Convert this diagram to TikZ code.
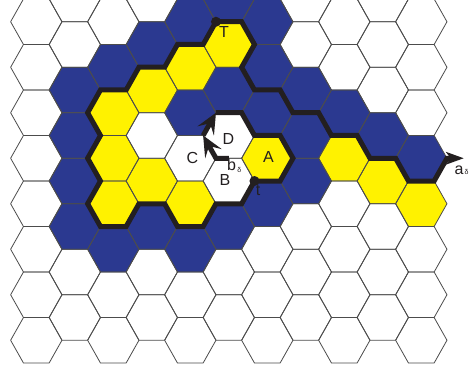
\documentclass[tikz,border=0pt]{standalone}
\usepackage{fontspec}
\setmainfont{Liberation Sans}
\usetikzlibrary{calc}
\definecolor{hexblue}{RGB}{43,57,144}
\definecolor{hexyellow}{RGB}{255,242,0}
\definecolor{pathblack}{RGB}{35,31,32}
\tikzset{
  hexline/.style={draw=black!70, line width=0.8pt, line join=round},
  bluecell/.style={fill=hexblue},
  yellowcell/.style={fill=hexyellow},
  explore/.style={draw=pathblack, line width=5pt, line join=miter, miter limit=10},
  headfill/.style={fill=pathblack},
  dotmark/.style={circle, fill=pathblack, inner sep=0pt, minimum size=10pt},
  lab/.style={font=\fontsize{16}{19}\selectfont, inner sep=0pt, text=pathblack},
}
\newcommand\hexcell[2]{(#1-2,#2) -- (#1-1,#2-1) -- (#1+1,#2-1) -- (#1+2,#2) -- (#1+1,#2+1) -- (#1-1,#2+1) -- cycle}
% arrowhead: tip, point it comes from, length, half width, inset
\newcommand\arrowheadat[5]{%
  \fill[headfill] (#1) -- ($($(#1)!#3!(#2)$)!#4!90:(#1)$) -- ($(#1)!#3-#5!(#2)$) -- ($($(#1)!#3!(#2)$)!#4!-90:(#1)$) -- cycle;}
\begin{document}
\begin{tikzpicture}[x=1pt,y=-1pt]
\useasboundingbox (0,0) rectangle (470,374);
\fill[white] (0,0) rectangle (470,374);
\clip (0,0) rectangle (470,374);
\begin{scope}[shift={(10.63pt,1pt)}, x=12.8333pt, y=-22.75pt]
  % coloured cells
  \foreach \c/\k in {1/4,1/6,1/8,1/10,2/3,2/11,3/2,3/10,4/1,4/5,4/11,5/0,5/4,5/10,6/1,6/3,6/5,6/9,7/4,7/6,7/8,8/5,9/6,10/7} {
    \pgfmathtruncatemacro\m{2+3*\c}
    \fill[bluecell] \hexcell{\m}{\k};
  }
  \foreach \c/\k in {2/5,2/7,2/9,3/4,3/8,4/3,4/9,5/2,6/7,8/7,9/8,10/9} {
    \pgfmathtruncatemacro\m{2+3*\c}
    \fill[yellowcell] \hexcell{\m}{\k};
  }
  % grid
  \foreach \c in {0,...,10} {
    \pgfmathtruncatemacro\m{2+3*\c}
    \pgfmathtruncatemacro\ka{mod(\c+1,2)}
    \pgfmathtruncatemacro\kb{\ka+2}
    \foreach \k in {\ka,\kb,...,15} {
      \draw[hexline] \hexcell{\m}{\k};
    }
  }
  % key points
  \coordinate (bd) at (17,7);
  \coordinate (c1) at (16,7);
  \coordinate (c2) at (15,6);
  \coordinate (c3) at (16,5);
  \coordinate (vT) at (16,1);
  \coordinate (vt) at (19,8);
  \coordinate (ad) at (34,7);
  \coordinate (adtip) at (35.3,7);
  \coordinate (lowI) at ($(c2)!12pt!(c1)$);
  \coordinate (upI) at ($(c3)!12pt!(c2)$);
  \coordinate (endI) at ($(adtip)!11pt!(ad)$);
  % exploration path
  \draw[explore] (c3) -- (18,5) -- (19,6) -- (21,6) -- (22,7) -- (21,8) -- (vt) -- (18,9) -- (16,9) -- (15,10) -- (13,10) -- (12,9) -- (10,9) -- (9,10) -- (7,10) -- (6,9) -- (7,8) -- (6,7) -- (7,6) -- (6,5) -- (7,4) -- (9,4) -- (10,3) -- (12,3) -- (13,2) -- (15,2) -- (vT) -- (18,1) -- (19,2) -- (18,3) -- (19,4) -- (21,4) -- (22,5) -- (24,5) -- (25,6) -- (27,6) -- (28,7) -- (30,7) -- (31,8) -- (33,8) -- (ad) -- (endI);
  \draw[explore] (bd) -- (c1) -- (lowI);
  \draw[explore] (c2) -- (upI);
  \arrowheadat{c2}{c1}{21pt}{9.5pt}{9pt}
  \arrowheadat{c3}{c2}{21pt}{9.5pt}{9pt}
  \arrowheadat{adtip}{ad}{18pt}{6.5pt}{5pt}
  \node[dotmark] (Tdot) at (vT) {};
  \node[dotmark] (tdot) at (vt) {};
\end{scope}
% labels
\node[lab] (labT) at (224,32) {T};
\node[lab] (labt) at (258,190.5) {t};
\node[lab] (labA) at (268.5,157) {A};
\node[lab] (labB) at (225,179.5) {B};
\node[lab] (labC) at (192.5,157.5) {C};
\node[lab] (labD) at (228.3,139) {D};
\node[lab, anchor=base west] (labb) at (226.8,170) {b\hspace{1.5pt}\raisebox{-2.5pt}{\fontsize{7}{8}\selectfont δ}};
\node[lab, anchor=base west] (laba) at (454.5,174) {a\hspace{1pt}\raisebox{0pt}{\fontsize{7}{8}\selectfont δ}};
\end{tikzpicture}
\end{document}
